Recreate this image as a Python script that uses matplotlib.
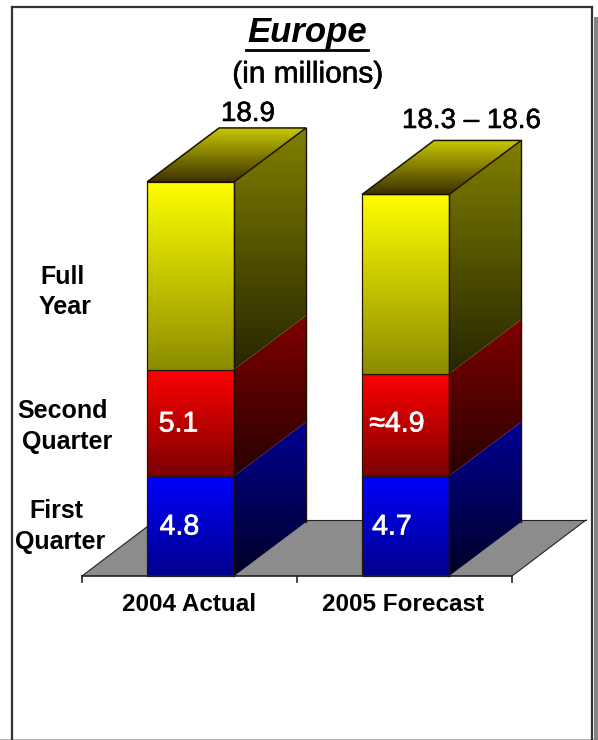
import numpy as np
import matplotlib
matplotlib.use("Agg")
import matplotlib.pyplot as plt
import matplotlib.patheffects as pe
from matplotlib.colors import LinearSegmentedColormap
from matplotlib.lines import Line2D
from matplotlib.patches import Polygon, Rectangle

plt.rcParams['font.family'] = ['Liberation Sans', 'DejaVu Sans']

# ---- data (millions) ----
categories = ["2004 Actual", "2005 Forecast"]
first_quarter = [4.8, 4.8]
second_quarter = [5.1, 4.9]
rest_of_year = [9.0, 8.6]
segment_labels = [["4.8", "5.1"], ["4.7", "≈4.9"]]
total_labels = ["18.9", "18.3 – 18.6"]
row_labels = ["First\nQuarter", "Second\nQuarter", "Full\nYear"]
title = "Europe"
subtitle = "(in millions)"

# ---- scales: one category = 215 px, one million = 20.85 px ----
W, H = 598, 740
PX_X, PX_Y = 215.0, 20.85
X0, Y0 = 82, 576
fig = plt.figure(figsize=(W / 100, H / 100), dpi=100, facecolor="white")
ax = fig.add_axes([0, 0, 1, 1])
ax.set_xlim(-X0 / PX_X, (W - X0) / PX_X)
ax.set_ylim(-(H - Y0) / PX_Y, Y0 / PX_Y)
ax.axis("off")


def px(x, y):
    return (x - X0) / PX_X, (Y0 - y) / PX_Y


def ramp(poly, top, bottom, z):
    """Fill a polygon with a vertical gradient clipped to it."""
    poly = np.asarray(poly)
    cmap = LinearSegmentedColormap.from_list("g", [top, bottom])
    grad = np.linspace(0, 1, 256).reshape(-1, 1)
    im = ax.imshow(grad, cmap=cmap, aspect="auto", zorder=z, interpolation="bilinear",
                   extent=[poly[:, 0].min(), poly[:, 0].max(), poly[:, 1].min(), poly[:, 1].max()])
    clip = Polygon(poly, closed=True, transform=ax.transData, facecolor="none", edgecolor="none")
    ax.add_patch(clip)
    im.set_clip_path(clip)


def outline(poly, z, color="#1a1400", lw=1.1):
    ax.add_patch(Polygon(poly, closed=True, facecolor="none", edgecolor=color, linewidth=lw, zorder=z))


# ---- frame and drop shadow ----
fig.add_artist(Rectangle((594 / W, 0), 4 / W, 1 - 17 / H, transform=fig.transFigure,
                         facecolor="#858585", edgecolor="none"))
fig.add_artist(Rectangle((0, 0), 594 / W, 1.2 / H, transform=fig.transFigure,
                         facecolor="#b5b5b5", edgecolor="none"))
for xs, ys in [((12, 12), (0, 7)), ((12, 592), (7, 7)), ((592, 592), (7, H))]:
    fig.add_artist(Line2D([x / W for x in xs],
                          [1 - y / H if y != 0 else 0 for y in ((7, H) if xs == (12, 12) else ys)],
                          transform=fig.transFigure, color="#333333", linewidth=1.6))

# ---- floor ----
DFX, DFY = 74 / PX_X, 56 / PX_Y
n = len(categories)
floor = [(0, 0), (n, 0), (n + DFX, DFY), (DFX, DFY)]
ax.add_patch(Polygon(floor, closed=True, facecolor="#8c8c8c", edgecolor="none", zorder=1))
ax.plot([floor[1][0], floor[2][0]], [floor[1][1], floor[2][1]], color="#222222", lw=0.8, zorder=1.5)
ax.plot([floor[3][0], floor[2][0]], [floor[3][1], floor[2][1]], color="#222222", lw=0.8, zorder=1.5)
ax.plot([floor[0][0], floor[3][0]], [floor[0][1], floor[3][1]], color="#222222", lw=0.8, zorder=1.5)
ax.plot([0, n], [0, 0], color="#222222", lw=1.2, zorder=6)
for t in range(n + 1):
    ax.plot([t, t], [0, -5.5 / PX_Y], color="#222222", lw=1.2, zorder=6)

# ---- bars ----
BAR_W = 87 / PX_X
DX, DY = 72 / PX_X, 54 / PX_Y
fronts = [("#0000ff", "#00008c"), ("#ff0000", "#7c0000"), ("#ffff00", "#8c8c00")]
sides = [("#000094", "#000028"), ("#800000", "#280000"), ("#808000", "#262600")]
series = [first_quarter, second_quarter, rest_of_year]

for i in range(n):
    x0 = i + 0.505 - BAR_W / 2
    x1 = x0 + BAR_W
    base = 0.0
    for s, vals in enumerate(series):
        top = base + vals[i]
        side = [(x1, base), (x1 + DX, base + DY), (x1 + DX, top + DY), (x1, top)]
        front = [(x0, base), (x1, base), (x1, top), (x0, top)]
        z = 3 + s * 0.1
        ramp(side, sides[s][0], sides[s][1], z)
        ramp(front, fronts[s][0], fronts[s][1], z)
        outline(front, z + 0.01, color="#2a1500", lw=0.9)
        base = top
    lid = [(x0, base), (x1, base), (x1 + DX, base + DY), (x0 + DX, base + DY)]
    ramp(lid, "#c8c800", "#3c3000", 4)
    outline(lid, 4.1, lw=1.1)
    ax.plot([x1, x1], [0, base], color="#1a1000", lw=1.0, zorder=4.2)
    ax.plot([x1 + DX, x1 + DX], [DY, base + DY], color="#1a1400", lw=1.0, zorder=4.2)


# ---- text ----
def label_px(x, y, s, stroke=0.0, **kw):
    color = kw.get("color", "black")
    t = ax.text(*px(x, y + 1.5), s, ha="center", va="center", zorder=8, **kw)
    if stroke:
        t.set_path_effects([pe.withStroke(linewidth=stroke, foreground=color)])


label_px(307.5, 31, title, fontsize=25, fontweight="bold", fontstyle="italic", color="black")
ax.plot(*zip(px(246, 49.5), px(368, 49.5)), color="black", lw=2.0, zorder=8)
label_px(308, 73, subtitle, stroke=0.4, fontsize=21.5, color="black")

total_pos = [(248, 112.5), (471.5, 119.5)]
for (x, y), s in zip(total_pos, total_labels):
    label_px(x, y, s, stroke=0.4, fontsize=20, color="black")

seg_pos = [[(179.5, 526), (178.5, 423)], [(392, 526), (397, 423)]]
for col, labs in zip(seg_pos, segment_labels):
    for (x, y), s in zip(col, labs):
        label_px(x, y, s, stroke=0.5, fontsize=20.5, color="white")

row_pos = [(56, 510, 60, 541), (62.5, 409, 67, 440), (62, 276, 65.5, 305)]
for (xa, ya, xb, yb), s in zip(row_pos, row_labels):
    a, b = s.split("\n")
    label_px(xa, ya, a, fontsize=18, fontweight="bold", color="black")
    label_px(xb, yb, b, fontsize=18, fontweight="bold", color="black")

for i, s in enumerate(categories):
    label_px([189, 403.5][i], 603, s, fontsize=17.5, fontweight="bold", color="black")

fig.savefig("out.png", dpi=100, facecolor="white")
